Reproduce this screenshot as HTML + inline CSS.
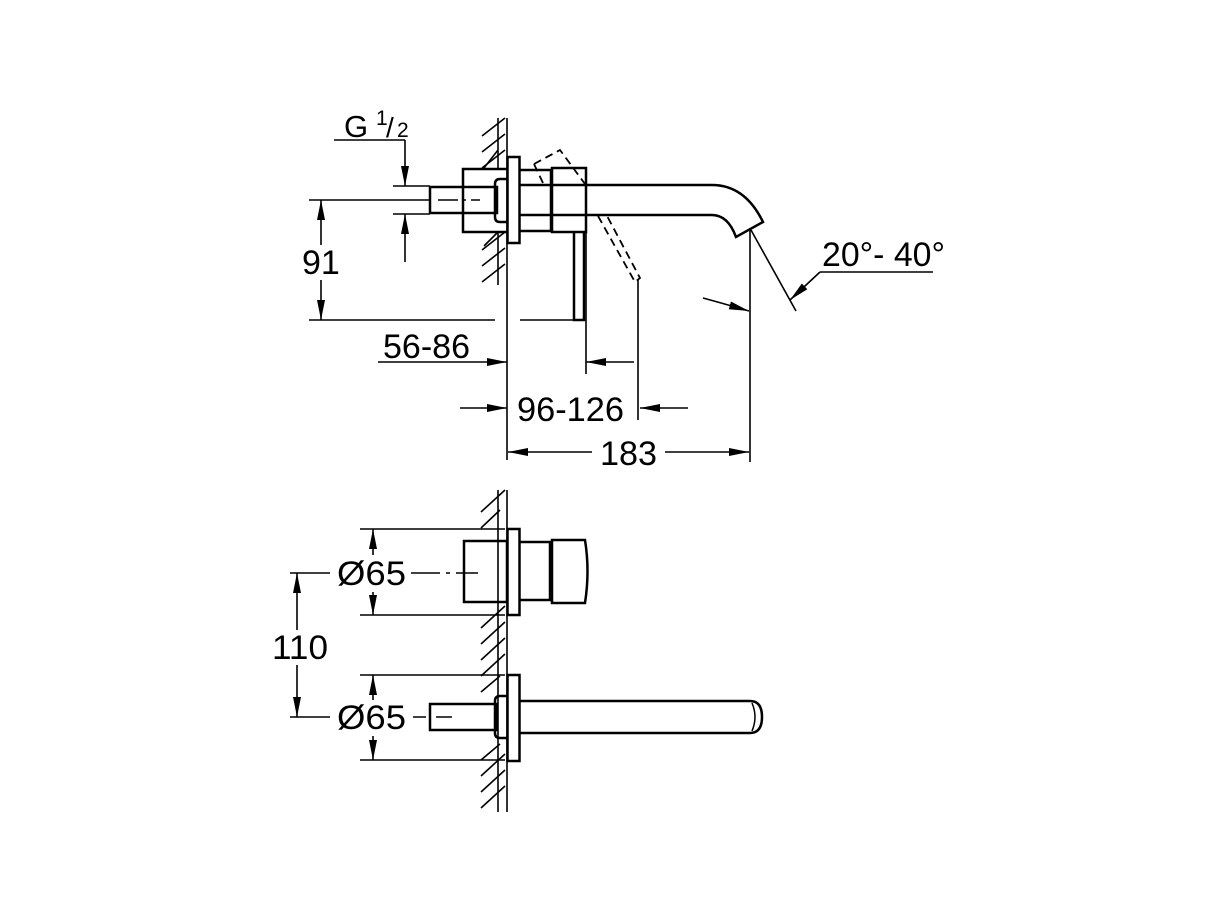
<!DOCTYPE html>
<html><head><meta charset="utf-8"><style>
html,body{margin:0;padding:0;background:#fff;}
svg{display:block;}
text{font-family:"Liberation Sans",sans-serif;fill:#000;}
</style></head><body>
<svg width="1221" height="915" viewBox="0 0 1221 915" xmlns="http://www.w3.org/2000/svg">
<defs>
<marker id="a" viewBox="0 0 20 8" refX="20" refY="4" markerWidth="20" markerHeight="8" markerUnits="userSpaceOnUse" orient="auto"><path d="M0,0 L20,4 L0,8 Z" fill="#000"/></marker>
</defs>
<g stroke="#000" fill="none" stroke-width="1.6">
<!-- TOP VIEW wall -->
<line x1="507" y1="118" x2="507" y2="460"/>
<line x1="498" y1="118" x2="498" y2="170"/>
<line x1="498" y1="232" x2="498" y2="285"/>
<path d="M482,136 L505,118 M482,152 L505,134 M482,168 L505,150 M482,250 L505,232 M482,266 L505,248 M482,282 L505,264"/>
<path d="M484,168 L498,150 M484,246 L498,232"/>
<!-- top components -->
<g stroke-width="2.5">
<rect x="507.5" y="157" width="12" height="86"/>
<path d="M507,169 L463,169 L463,232 L507,232"/>
<rect x="430" y="187" width="67" height="26"/>
<path d="M507,179 L500,179 Q495,179 495,184 L495,217 Q495,222 500,222 L507,222"/>
<path d="M520,170 L551,170 L551,231 L520,231"/>
<rect x="552" y="168" width="34" height="64"/>
<path d="M520,185 L712,185 Q745,185 763,222 L736,237 Q728,215 712,215 L520,215"/>
<path d="M574,232 L574,320 L584,320 L584,232"/>
</g>
<!-- dashed rotated lever -->
<g stroke-dasharray="8,5" stroke-width="1.8">
<path d="M534,164 L560,150 L585,184"/>
<path d="M534,164 L543,183"/>
<path d="M598,216 L635,282 L640,278 L606,214"/>
</g>
<!-- G1/2 dim -->
<line x1="334" y1="140" x2="405" y2="140"/>
<line x1="405" y1="140" x2="405" y2="186" marker-end="url(#a)"/>
<line x1="405" y1="262" x2="405" y2="214" marker-end="url(#a)"/>
<line x1="393" y1="186" x2="430" y2="186"/>
<line x1="393" y1="214" x2="430" y2="214"/>
<line x1="309" y1="200" x2="430" y2="200"/>
<path d="M438,200 L458,200 M463,200 L466,200 M471,200 L480,200"/>
<!-- 91 -->
<line x1="321" y1="245" x2="321" y2="200" marker-end="url(#a)"/>
<line x1="321" y1="280" x2="321" y2="320" marker-end="url(#a)"/>
<line x1="309" y1="320" x2="495" y2="320"/>
<line x1="520" y1="320" x2="574" y2="320"/>
<!-- 56-86 -->
<line x1="378" y1="362" x2="507" y2="362" marker-end="url(#a)"/>
<line x1="634" y1="362" x2="586" y2="362" marker-end="url(#a)"/>
<line x1="586" y1="232" x2="586" y2="374"/>
<line x1="638" y1="280" x2="638" y2="420"/>
<!-- 96-126 -->
<line x1="460" y1="408" x2="507" y2="408" marker-end="url(#a)"/>
<line x1="688" y1="408" x2="640" y2="408" marker-end="url(#a)"/>
<!-- 183 -->
<line x1="750" y1="228" x2="750" y2="462"/>
<line x1="592" y1="452" x2="508" y2="452" marker-end="url(#a)"/>
<line x1="665" y1="452" x2="749" y2="452" marker-end="url(#a)"/>
<!-- angle -->
<line x1="751" y1="230" x2="796" y2="311"/>
<path d="M703,298 Q725,304 749,311" marker-end="url(#a)"/>
<line x1="820" y1="272" x2="933" y2="272"/>
<line x1="820" y1="272" x2="790" y2="300" marker-end="url(#a)"/>

<!-- BOTTOM VIEW wall -->
<line x1="507" y1="490" x2="507" y2="812"/>
<line x1="498" y1="490" x2="498" y2="812"/>
<path d="M481,512 L505,490 M481,528 L500,510 M481,660 L505,638 M481,644 L505,622 M481,628 L505,606 M481,676 L505,654 M481,692 L500,676 M481,776 L505,754 M481,792 L505,770 M481,808 L505,786 M481,760 L500,744"/>
<g stroke-width="2.5">
<rect x="507.5" y="529" width="12" height="86"/>
<rect x="464" y="541" width="43" height="61"/>
<path d="M520,542 L550,542 L550,600 L520,600"/>
<path d="M552,540 L585,540 Q590,571 585,603 L552,603 Z"/>
<rect x="507.5" y="675" width="12" height="86"/>
<rect x="430" y="704" width="67" height="26"/>
<path d="M507,696 L500,696 Q495,696 495,701 L495,733 Q495,738 500,738 L507,738"/>
<path d="M520,701 L750,701 Q762,701 762,717 Q762,733 750,733 L520,733"/>
<path d="M752,703 Q758,717 752,731" stroke-width="1.5"/>
</g>
<!-- Ø65 dims -->
<line x1="360" y1="529" x2="505" y2="529"/>
<line x1="360" y1="615" x2="505" y2="615"/>
<line x1="373" y1="555" x2="373" y2="529" marker-end="url(#a)"/>
<line x1="373" y1="592" x2="373" y2="615" marker-end="url(#a)"/>
<line x1="360" y1="675" x2="505" y2="675"/>
<line x1="360" y1="760" x2="505" y2="760"/>
<line x1="373" y1="700" x2="373" y2="675" marker-end="url(#a)"/>
<line x1="373" y1="736" x2="373" y2="760" marker-end="url(#a)"/>
<path d="M290,573 L330,573 M411,573 L440,573 M446,573 L450,573 M456,573 L478,573"/>
<path d="M290,717 L330,717 M413,717 L426,717 M436,717 L452,717"/>
<!-- 110 -->
<line x1="297" y1="630" x2="297" y2="573" marker-end="url(#a)"/>
<line x1="297" y1="665" x2="297" y2="717" marker-end="url(#a)"/>
</g>
<g font-size="34">
<text x="344" y="137" font-size="31">G</text>
<text x="376" y="125" font-size="21">1</text>
<text x="386" y="137" font-size="28">/</text>
<text x="397" y="137" font-size="21">2</text>
<text x="302" y="274">91</text>
<text x="383" y="358" textLength="87" lengthAdjust="spacingAndGlyphs">56-86</text>
<text x="517" y="421" textLength="107" lengthAdjust="spacingAndGlyphs">96-126</text>
<text x="600" y="465" textLength="57" lengthAdjust="spacingAndGlyphs">183</text>
<text x="822" y="266" textLength="123" lengthAdjust="spacingAndGlyphs">20°- 40°</text>
<text x="337" y="585" textLength="69" lengthAdjust="spacingAndGlyphs">Ø65</text>
<text x="272" y="659" textLength="56" lengthAdjust="spacingAndGlyphs">110</text>
<text x="337" y="729" textLength="69" lengthAdjust="spacingAndGlyphs">Ø65</text>
</g>
</svg>
</body></html>
